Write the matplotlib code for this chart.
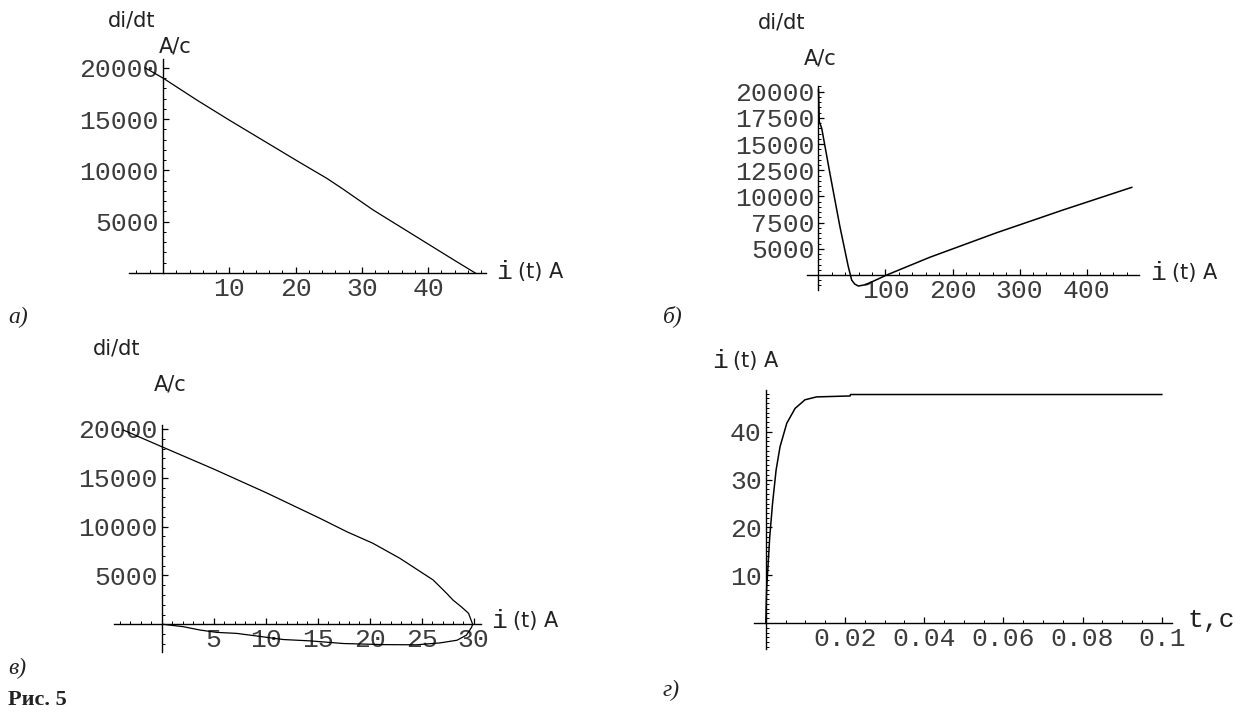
import numpy as np
import matplotlib
matplotlib.use('Agg')
import matplotlib.pyplot as plt
from matplotlib.ticker import MultipleLocator, FixedLocator

W, H = 1241, 713

# а) di/dt vs i
a_cur = [-2.7, 0.0, 5.1, 10.0, 19.2, 20.7, 24.7, 27.1, 31.7, 39.8, 43.8, 47.1]
a_rate = [20000, 19000, 16860, 14900, 11330, 10750, 9230, 8200, 6140, 2900, 1300, 0]
a_xticks = [10, 20, 30, 40]
a_yticks = [5000, 10000, 15000, 20000]

# б) di/dt vs i
b_cur = [0.0, 1.2, 4.8, 17, 32, 44.5, 49.5, 54, 59.4, 68, 77, 90, 101.8, 166, 266, 365, 467.5]
b_rate = [20200, 17140, 16510, 12210, 7110, 3290, 2020, 1640, 1450, 1545, 1770, 2150, 2500,
          4190, 6540, 8710, 10870]
b_xticks = [100, 200, 300, 400]
b_yticks = [5000, 7500, 10000, 12500, 15000, 17500, 20000]

# в) di/dt vs i (closed trajectory)
c_cur = [-3.7, 0.0, 5.0, 10.1, 15.2, 17.8, 20.3, 22.9, 26.1, 27.4, 28.0, 28.8, 29.5, 29.9,
         29.8, 29.3, 28.4, 26.8, 24.5, 21.3, 17.5, 14.3, 11.7, 8.5, 7.2, 5.3, 3.7, 2.1, 0.15]
c_rate = [19900, 18190, 15900, 13450, 10860, 9480, 8300, 6760, 4540, 3170, 2490, 1800, 1130, 0,
          -300, -1110, -1630, -1900, -2100, -2080, -1970, -1700, -1560, -1110, -930, -830,
          -590, -250, 0]
c_xticks = [5, 10, 15, 20, 25, 30]
c_yticks = [5000, 10000, 15000, 20000]

# г) i vs t
d_time = [0, 0.0002, 0.0006, 0.001, 0.0017, 0.0026, 0.0036, 0.0053, 0.0074, 0.0099, 0.0128,
          0.0213, 0.0214, 0.1]
d_cur = [0, 6.9, 12.5, 18.1, 25.0, 32.0, 36.9, 41.8, 44.9, 46.7, 47.3, 47.5, 47.8, 47.8]
d_xticks = [0.02, 0.04, 0.06, 0.08, 0.1]
d_xlabels = ['0.02', '0.04', '0.06', '0.08', '0.1']
d_yticks = [10, 20, 30, 40]

mono = 'Liberation Mono'
sans = 'DejaVu Sans'
tick_color = '#3c3c3c'

fig = plt.figure(figsize=(W / 100, H / 100), dpi=100)
fig.patch.set_facecolor('white')


def ftext(x, y, s, **kw):
	# place text by pixel position of the reference picture
	fig.text(x / W, 1 - y / H, s, **kw)


def panel(x0, kx, y0, ky, xlim, ylim, xorig, yorig, xminor, yminor):
	# x0, y0: pixel of data (0, 0); kx, ky: pixels per data unit
	left, right = x0 + kx * xlim[0], x0 + kx * xlim[1]
	top, bottom = y0 - ky * ylim[1], y0 - ky * ylim[0]
	ax = fig.add_axes([left / W, 1 - bottom / H, (right - left) / W, (bottom - top) / H])
	ax.set_xlim(xlim)
	ax.set_ylim(ylim)
	ax.patch.set_alpha(0)
	for s in ['top', 'right']:
		ax.spines[s].set_visible(False)
	ax.spines['left'].set_position(('data', xorig))
	ax.spines['bottom'].set_position(('data', yorig))
	for s in ['left', 'bottom']:
		ax.spines[s].set_linewidth(1.0)
	ax.xaxis.set_minor_locator(MultipleLocator(xminor))
	ax.yaxis.set_minor_locator(MultipleLocator(yminor))
	ax.tick_params(which='major', direction='in', length=4.5, width=0.9,
		labelsize=19, labelcolor=tick_color, pad=3)
	ax.tick_params(which='minor', direction='in', length=2.5, width=0.7)
	return ax


def set_ticks(ax, xt, yt, xl=None):
	ax.xaxis.set_major_locator(FixedLocator(xt))
	ax.yaxis.set_major_locator(FixedLocator(yt))
	ax.set_xticklabels(xl if xl else [str(v) for v in xt])
	ax.set_yticklabels([str(v) for v in yt])
	for lab in ax.get_xticklabels() + ax.get_yticklabels():
		lab.set_fontfamily(mono)


# а)
ax = panel(163, 6.63, 273, 0.01026, (-5.1, 48.7), (0, 20860), 0, 0, 2, 1000)
set_ticks(ax, a_xticks, a_yticks)
ax.plot(a_cur, a_rate, color='black', lw=0.9)

# б)
ax = panel(818.5, 0.67, 301.2, 0.010474, (-16.7, 478.8), (1068, 20550), 0, 2500, 20, 500)
set_ticks(ax, b_xticks, b_yticks)
ax.plot(b_cur, b_rate, color='black', lw=1.1)

# в)
ax = panel(161.7, 10.4, 624.3, 0.009765, (-4.56, 30.7), (-2806, 20410), 0, 0, 1, 1000)
set_ticks(ax, c_xticks, c_yticks)
ax.plot(c_cur, c_rate, color='black', lw=0.9)

# г)
ax = panel(765.8, 3960, 623, 4.78, (-0.00298, 0.1025), (-5.4, 48.7), 0, 0, 0.005, 1)
set_ticks(ax, d_xticks, d_yticks, d_xlabels)
ax.plot(d_time, d_cur, color='black', lw=1.1)

# axis captions
lab = dict(family=sans, fontsize=15, color='#222222', va='center')
ilab = dict(family=mono, fontsize=19, color='#222222', va='center')

ftext(108, 21, 'di/dt', **lab)
ftext(159, 46, 'A/c', **lab)
ftext(496, 272, 'i', **ilab)
ftext(518, 272, '(t) A', **lab)

ftext(758, 22, 'di/dt', **lab)
ftext(804, 59, 'A/c', **lab)
ftext(1150, 273, 'i', **ilab)
ftext(1172, 273, '(t) A', **lab)

ftext(93, 349, 'di/dt', **lab)
ftext(154, 385, 'A/c', **lab)
ftext(491, 621, 'i', **ilab)
ftext(513, 621, '(t) A', **lab)

ftext(712, 361, 'i', **ilab)
ftext(733, 361, '(t) A', **lab)
ftext(1187, 620, 't,c', **ilab)

# panel letters
plab = dict(family='Liberation Serif', style='italic', fontsize=17, color='#222222', va='center')
ftext(8, 317, 'а)', **plab)
ftext(663, 316, 'б)', **plab)
ftext(8, 668, 'в)', **plab)
ftext(663, 690, 'г)', **plab)
ftext(8, 700, 'Рис. 5', family='Liberation Serif', fontweight='bold', fontsize=16,
	color='#222222', va='center')

fig.savefig('out.png', dpi=100)
